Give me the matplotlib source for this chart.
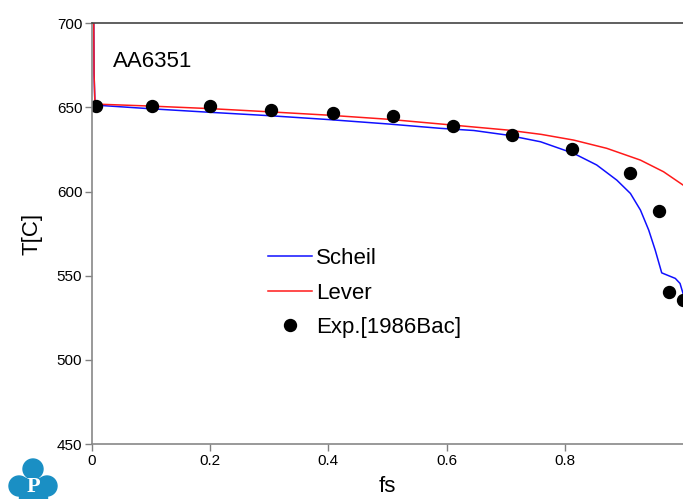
import matplotlib
matplotlib.use("Agg")
import matplotlib.pyplot as plt
from matplotlib.patches import Circle, Rectangle

plt.rcParams['font.family'] = ['Liberation Sans', 'DejaVu Sans']

# Scheil solidification curve
scheil_fs = [0.003, 0.0035, 0.005, 0.1, 0.2, 0.3, 0.4, 0.5, 0.589, 0.646,
             0.702, 0.759, 0.815, 0.854, 0.888, 0.911, 0.928, 0.942, 0.953,
             0.964, 0.973, 0.987, 0.995, 1.0]
scheil_T = [700, 670, 651.4, 649.2, 647.1, 645.1, 642.8, 640.2, 637.6, 636.3,
            633.6, 629.6, 622.7, 615.8, 606.8, 598.9, 589.0, 577.1, 565.2,
            551.7, 550.4, 548.4, 545.4, 539.5]

# Lever rule curve
lever_fs = [0.003, 0.0035, 0.005, 0.1, 0.2, 0.3, 0.4, 0.5, 0.595, 0.702,
            0.76, 0.815, 0.871, 0.928, 0.967, 1.0]
lever_T = [700, 670, 652, 650.8, 649.3, 647.4, 645.4, 643.0, 640.0, 636.6,
           634.0, 630.6, 625.7, 618.7, 611.8, 603.9]

# experimental points [1986Bac]
exp_fs = [0.007, 0.101, 0.200, 0.303, 0.408, 0.510, 0.610, 0.711, 0.813,
          0.911, 0.960, 0.977, 1.0]
exp_T = [650.8, 650.8, 650.8, 648.5, 646.7, 644.9, 638.9, 633.6, 625.3,
         611.0, 588.4, 540.3, 535.5]

fig = plt.figure(figsize=(6.83, 4.99), dpi=100)
ax = fig.add_axes([92 / 683, 1 - 444 / 499, 1 - 92 / 683, (444 - 23.3) / 499])

ax.plot(scheil_fs, scheil_T, color='#1010ff', lw=1.1, label='Scheil')
ax.plot(lever_fs, lever_T, color='#ff1a1a', lw=1.1, label='Lever')
ax.plot(exp_fs, exp_T, 'o', color='black', ms=8.6, label='Exp.[1986Bac]')

ax.set_xlim(0, 1.0)
ax.set_ylim(450, 700)
ax.set_xticks([0, 0.2, 0.4, 0.6, 0.8])
ax.set_xticklabels(['0', '0.2', '0.4', '0.6', '0.8'])
ax.set_yticks([450, 500, 550, 600, 650, 700])
ax.tick_params(direction='out', length=5, width=1, color='#808080',
               labelsize=11, pad=2)

for s in ['left', 'bottom']:
    ax.spines[s].set_color('#888888')
    ax.spines[s].set_linewidth(1.2)
ax.spines['top'].set_color('#444444')
ax.spines['top'].set_linewidth(1.2)
ax.spines['right'].set_visible(False)

ax.set_xlabel('fs', fontsize=16, labelpad=6)
ax.set_ylabel('T[C]', fontsize=16, labelpad=10)

ax.text(0.035, 0.935, 'AA6351', transform=ax.transAxes, fontsize=16,
        va='top', ha='left')

ax.legend(loc='upper left', bbox_to_anchor=(268 / 683, 1 - 248 / 499),
          bbox_transform=fig.transFigure, frameon=False, fontsize=16,
          handlelength=2.0, handletextpad=0.18, labelspacing=0.61,
          borderpad=0, borderaxespad=0, markerscale=1.0)

# logo in the lower left corner
lax = fig.add_axes([0, 0, 70 / 683, 45 / 499])
lax.set_xlim(0, 70)
lax.set_ylim(499, 454)
lax.axis('off')
blue = '#1a8fc4'
for cx, cy, r in [(33, 469, 10), (19, 486, 10), (47, 486, 10), (33, 490, 12)]:
    lax.add_patch(Circle((cx, cy), r, color=blue))
lax.add_patch(Rectangle((19, 478), 28, 21, color=blue))
lax.text(33, 487, 'P', color='white', fontsize=16, fontweight='bold',
         family=['Liberation Serif', 'DejaVu Serif'], ha='center', va='center')

fig.savefig('out.png', dpi=100)
